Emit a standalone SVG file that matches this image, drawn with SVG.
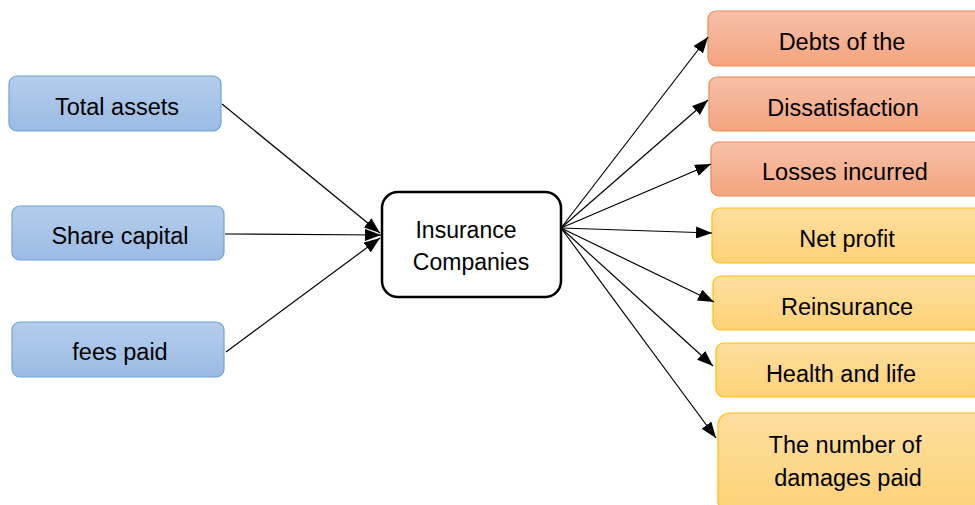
<svg xmlns="http://www.w3.org/2000/svg" width="975" height="505" viewBox="0 0 975 505">
<style>
text{font-family:"Liberation Sans",Arial,sans-serif;font-size:23.5px;fill:#000;text-anchor:middle}
.blue{fill:url(#gb);stroke:#6fa3d8;stroke-width:1.2}
.orange{fill:url(#go);stroke:#ef8a52;stroke-width:1.2}
.yellow{fill:url(#gy);stroke:#ffc000;stroke-width:1.2}
.center{fill:#fff;stroke:#000;stroke-width:2.5}
.conn line{stroke:#000;stroke-width:1.2;marker-end:url(#ah)}
</style>
<defs>
<linearGradient id="gb" x1="0" y1="0" x2="0" y2="1"><stop offset="0" stop-color="#b4cdec"/><stop offset="1" stop-color="#9bbbe5"/></linearGradient>
<linearGradient id="go" x1="0" y1="0" x2="0" y2="1"><stop offset="0" stop-color="#f6c0a7"/><stop offset="1" stop-color="#f4a47f"/></linearGradient>
<linearGradient id="gy" x1="0" y1="0" x2="0" y2="1"><stop offset="0" stop-color="#fedea0"/><stop offset="1" stop-color="#fdd276"/></linearGradient>
<marker id="ah" markerUnits="userSpaceOnUse" markerWidth="16" markerHeight="12" viewBox="0 0 16 12" refX="16" refY="6" orient="auto"><path d="M0,0 L16,6 L0,12 Z" fill="#000"/></marker>
</defs>
<g id="n-total-assets"><rect class="blue" x="9" y="76" width="212" height="55" rx="8"/><text x="117" y="115">Total assets</text></g>
<g id="n-share-capital"><rect class="blue" x="12" y="206" width="212" height="54" rx="8"/><text x="120" y="244">Share capital</text></g>
<g id="n-fees-paid"><rect class="blue" x="12" y="322" width="212" height="55" rx="8"/><text x="120" y="360">fees paid</text></g>
<g id="n-insurance"><rect class="center" x="382" y="192" width="179" height="105" rx="16"/><text x="466" y="238" style="font-size:23px">Insurance</text><text x="471" y="270" style="font-size:23px">Companies</text></g>
<g id="n-debts"><rect class="orange" x="708" y="11" width="280" height="55" rx="8"/><text x="842" y="50">Debts of the</text></g>
<g id="n-dissatisfaction"><rect class="orange" x="709" y="77" width="280" height="54" rx="8"/><text x="843" y="116">Dissatisfaction</text></g>
<g id="n-losses"><rect class="orange" x="711" y="142" width="280" height="54" rx="8"/><text x="845" y="180">Losses incurred</text></g>
<g id="n-net-profit"><rect class="yellow" x="712" y="208" width="280" height="55" rx="8"/><text x="847" y="247">Net profit</text></g>
<g id="n-reinsurance"><rect class="yellow" x="713" y="276" width="280" height="54" rx="8"/><text x="847" y="315">Reinsurance</text></g>
<g id="n-health"><rect class="yellow" x="716" y="343" width="280" height="54" rx="8"/><text x="841" y="382">Health and life</text></g>
<g id="n-damages"><rect class="yellow" x="718" y="413" width="280" height="100" rx="12"/><text x="845" y="453">The number of</text><text x="848" y="486">damages paid</text></g>
<g id="connectors" class="conn">
<line x1="222" y1="104" x2="380" y2="233"/>
<line x1="225" y1="234" x2="381" y2="235"/>
<line x1="226" y1="352" x2="380" y2="238"/>
<line x1="561" y1="228" x2="708" y2="37"/>
<line x1="561" y1="228" x2="708" y2="100"/>
<line x1="561" y1="228" x2="711" y2="164"/>
<line x1="561" y1="228" x2="712" y2="233"/>
<line x1="561" y1="228" x2="714" y2="302"/>
<line x1="561" y1="228" x2="713" y2="366"/>
<line x1="561" y1="228" x2="716" y2="438"/>
</g>
</svg>
